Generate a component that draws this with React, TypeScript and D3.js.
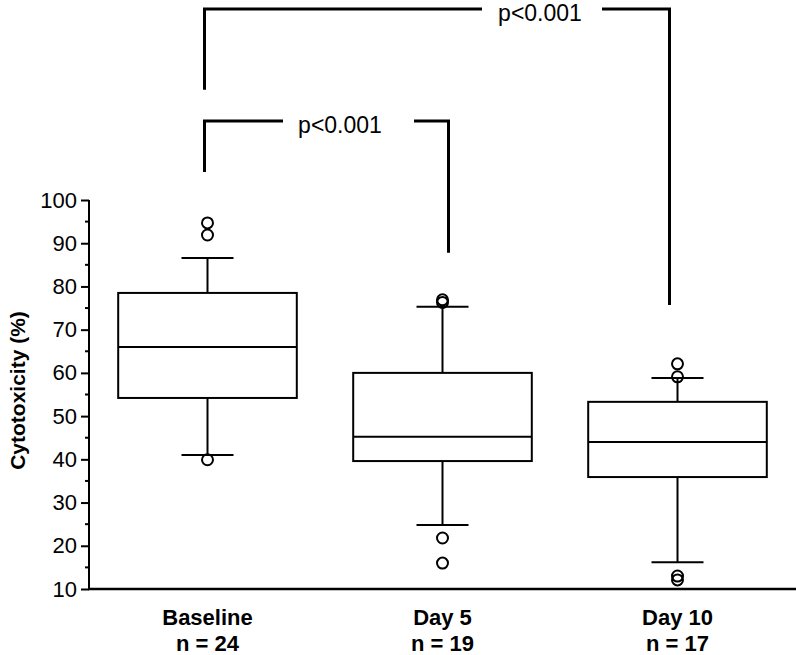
import React, { useEffect, useRef } from "react";
import * as d3 from "d3";

const categories = ["Baseline", "Day 5", "Day 10"];
const sampleSizes = ["n = 24", "n = 19", "n = 17"];

// box stats: [lowWhisker, q1, median, q3, highWhisker]
const boxStats = [
  [41.0, 54.2, 66.0, 78.5, 86.6],
  [24.8, 39.6, 45.2, 60.0, 75.3],
  [16.2, 35.9, 44.0, 53.3, 58.8],
];
const outliers = [
  [94.7, 91.9, 39.9],
  [76.9, 76.3, 21.8, 16.0],
  [62.1, 59.1, 13.0, 12.1],
];

const yTicks = [10, 20, 30, 40, 50, 60, 70, 80, 90, 100];
const yMinorTicks = [15, 25, 35, 45, 55, 65, 75, 85, 95];

// comparisons: bar level and foot ends in axis units
const comparisons = [
  { from: 0, to: 1, level: 118.3, leftEnd: 106.5, rightEnd: 87.8, label: "p<0.001" },
  { from: 0, to: 2, level: 144.2, leftEnd: 125.5, rightEnd: 75.7, label: "p<0.001" },
];

const W = 796;
const H = 655;

export default function App() {
  const svgRef = useRef<SVGSVGElement>(null);

  useEffect(() => {
    if (!svgRef.current) return;
    const svg = d3.select(svgRef.current);
    svg.selectAll("*").remove();

    const axisX = 89;
    const x = d3.scaleBand().domain(categories).range([90, 795]).padding(0);
    const y = d3.scaleLinear().domain([10, 100]).range([589, 200]);
    const cx = (i: number) => (x(categories[i]) || 0) + x.bandwidth() / 2;
    const boxW = x.bandwidth() * 0.76;
    const capW = 52;

    const font = "'Liberation Sans', Arial, Helvetica, sans-serif";

    // y axis
    const yAxis = d3.axisLeft(y).tickValues(yTicks).tickSize(8).tickPadding(4);
    const ya = svg.append("g").attr("transform", `translate(${axisX},0)`).call(yAxis);
    ya.select(".domain").attr("stroke", "#000").attr("stroke-width", 2).attr("d", `M0,${y(100)}V${y(10)}`);
    ya.selectAll(".tick line").attr("stroke", "#000").attr("stroke-width", 2);
    ya.selectAll(".tick text")
      .attr("font-family", font)
      .attr("font-size", 22)
      .attr("fill", "#000");
    svg
      .append("g")
      .selectAll("line")
      .data(yMinorTicks)
      .join("line")
      .attr("x1", axisX - 4)
      .attr("x2", axisX)
      .attr("y1", (d) => y(d))
      .attr("y2", (d) => y(d))
      .attr("stroke", "#000")
      .attr("stroke-width", 2);

    // x axis line
    svg
      .append("line")
      .attr("x1", axisX - 1)
      .attr("x2", W)
      .attr("y1", y(10))
      .attr("y2", y(10))
      .attr("stroke", "#000")
      .attr("stroke-width", 2.5);

    // y label
    svg
      .append("text")
      .attr("transform", `translate(25,${(y(10) + y(100)) / 2 - 4}) rotate(-90)`)
      .attr("text-anchor", "middle")
      .attr("font-family", font)
      .attr("font-weight", "bold")
      .attr("font-size", 21)
      .text("Cytotoxicity (%)");

    // category labels
    const lab = svg.append("g").attr("font-family", font).attr("font-weight", "bold").attr("font-size", 22).attr("text-anchor", "middle");
    categories.forEach((c, i) => {
      lab.append("text").attr("x", cx(i)).attr("y", 625).text(c);
      lab.append("text").attr("x", cx(i)).attr("y", 651).text(sampleSizes[i]);
    });

    // boxes
    const boxes = svg.append("g").attr("stroke", "#000").attr("stroke-width", 2).attr("fill", "none");
    boxStats.forEach((s, i) => {
      const c = cx(i);
      const [lo, q1, med, q3, hi] = s;
      const g = boxes.append("g");
      g.append("line").attr("x1", c).attr("x2", c).attr("y1", y(q3)).attr("y2", y(hi));
      g.append("line").attr("x1", c).attr("x2", c).attr("y1", y(q1)).attr("y2", y(lo));
      g.append("line").attr("x1", c - capW / 2).attr("x2", c + capW / 2).attr("y1", y(hi)).attr("y2", y(hi));
      g.append("line").attr("x1", c - capW / 2).attr("x2", c + capW / 2).attr("y1", y(lo)).attr("y2", y(lo));
      g.append("rect")
        .attr("x", c - boxW / 2)
        .attr("y", y(q3))
        .attr("width", boxW)
        .attr("height", y(q1) - y(q3))
        .attr("fill", "#fff");
      g.append("line").attr("x1", c - boxW / 2).attr("x2", c + boxW / 2).attr("y1", y(med)).attr("y2", y(med));
      g.selectAll("circle")
        .data(outliers[i])
        .join("circle")
        .attr("cx", c)
        .attr("cy", (d) => y(d))
        .attr("r", 5.5)
        .attr("fill", "none")
        .attr("stroke-width", 2);
    });

    // significance brackets
    const br = svg.append("g").attr("stroke", "#000").attr("stroke-width", 3).attr("fill", "none");
    const nudges = [
      { l: -3, r: 6, gapL: 283, gapR: 414, tx: 340 },
      { l: -3, r: -8, gapL: 482, gapR: 602, tx: 540 },
    ];
    comparisons.forEach((cmp, k) => {
      const n = nudges[k];
      const xl = cx(cmp.from) + n.l;
      const xr = cx(cmp.to) + n.r;
      const yl = y(cmp.level);
      br.append("path").attr("d", `M${xl},${y(cmp.leftEnd)}V${yl}H${n.gapL}`);
      br.append("path").attr("d", `M${n.gapR},${yl}H${xr}V${y(cmp.rightEnd)}`);
      svg
        .append("text")
        .attr("x", n.tx)
        .attr("y", yl + 12)
        .attr("text-anchor", "middle")
        .attr("font-family", font)
        .attr("font-size", 23)
        .text(cmp.label);
    });
  }, []);

  return (
    <svg
      ref={svgRef}
      width={W}
      height={H}
      style={{ position: "absolute", left: 0, top: 0, background: "#fff" }}
    />
  );
}
